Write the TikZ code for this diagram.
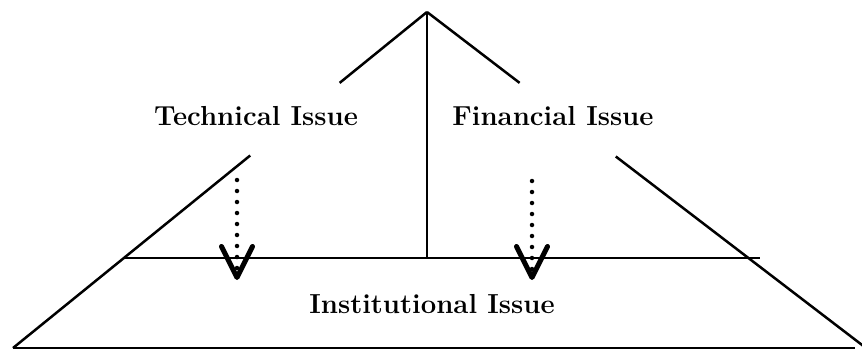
\documentclass[tikz,border=0pt]{standalone}
\usetikzlibrary{arrows.meta, calc}

\begin{document}
\begin{tikzpicture}[
    x=1pt, y=-1pt,
    edge/.style={line width=2.5pt},
    issue/.style={font=\fontsize{27.5}{32}\selectfont\bfseries, anchor=base, inner sep=0pt},
    flow/.style={line width=4.5pt, line cap=round, dash pattern=on 0pt off 11pt,
        -{Straight Barb[length=31pt, width=31pt, line width=5pt, round]}}
]
\useasboundingbox (0,0) rectangle (862,350);

% Pyramid corners
\coordinate (apex) at (427,12);
\coordinate (bl) at (13,348);
\coordinate (br) at (866,348);
\coordinate (shelfL) at (124,258);
\coordinate (shelfR) at (760,258);
\coordinate (floorR) at (855,348);
\coordinate (mid) at (427,258);

% Labels
\node[issue] (tech) at (256,126) {Technical Issue};
\node[issue] (fin) at (553,126) {Financial Issue};
\node[issue] (inst) at (432,313) {Institutional Issue};

% Sloped sides, broken around the labels
\draw[edge] (apex) -- ($(apex)!0.211!(bl)$);
\draw[edge] ($(apex)!0.427!(bl)$) -- (bl);
\draw[edge] (apex) -- ($(apex)!0.211!(br)$);
\draw[edge] ($(apex)!0.43!(br)$) -- (br);

% Middle divider, shelf and base
\draw[edge] (apex) -- (mid);
\draw[edge] (shelfL) -- (shelfR);
\draw[edge] (bl) -- (floorR);

% Dotted arrows down into the base
\coordinate (techTop) at (237,180);
\coordinate (techEnd) at (237,280);
\coordinate (finTop) at (532,181);
\coordinate (finEnd) at (532,280);
\draw[flow] (techTop) -- (techEnd);
\draw[flow] (finTop) -- (finEnd);

\end{tikzpicture}
\end{document}
